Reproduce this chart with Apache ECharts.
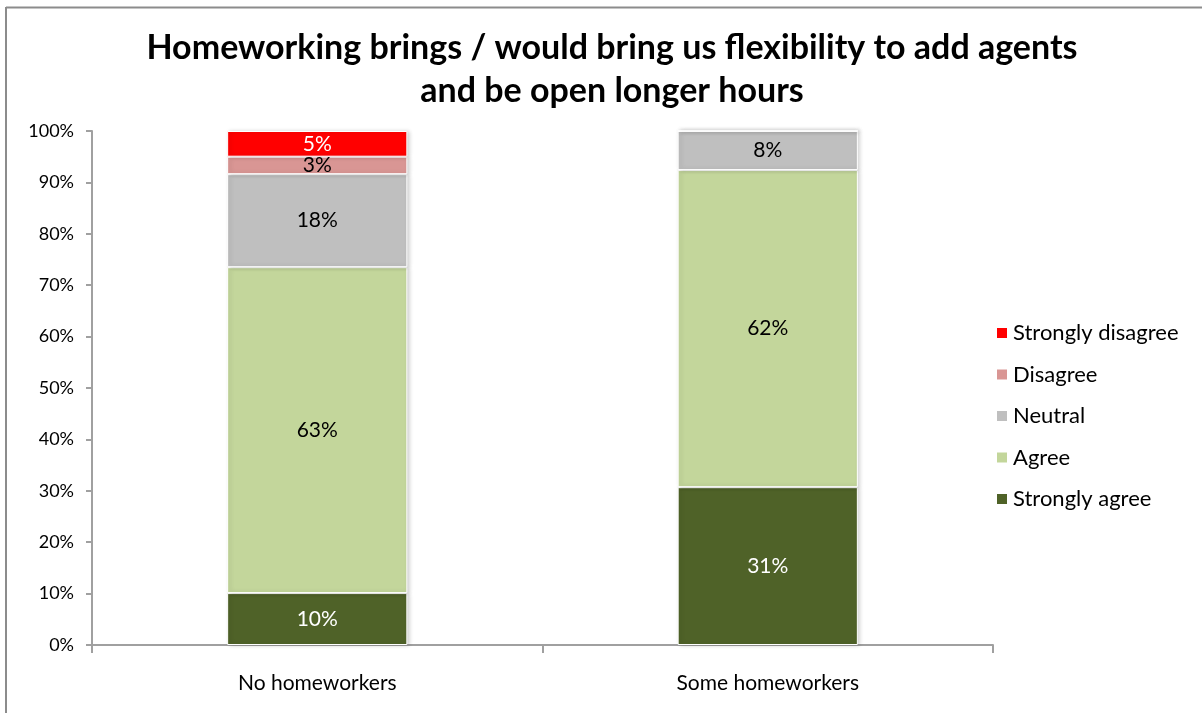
<!DOCTYPE html>
<html>
<head>
<meta charset="utf-8">
<script src="https://cdn.jsdelivr.net/npm/echarts@6/dist/echarts.min.js"></script>
<style>
  html, body { margin: 0; padding: 0; background: #fff; }
  #chart { width: 1202px; height: 713px; }
</style>
</head>
<body>
<div id="chart"></div>
<script>
// Survey responses (% of respondents) by homeworking status
const categories = ['No homeworkers', 'Some homeworkers'];
const stronglyAgree = [10.1, 30.7];
const agree = [63.4, 61.7];
const neutral = [18.1, 7.6];
const disagree = [3.4, 0];
const stronglyDisagree = [5.0, 0];
const yTicks = [0, 10, 20, 30, 40, 50, 60, 70, 80, 90, 100];

const FONT = 'Lato, "Noto Sans", sans-serif';

function seg(name, data, color, labelColor) {
  return {
    name: name,
    type: 'bar',
    stack: 'total',
    barWidth: '40%',
    data: data,
    itemStyle: {
      color: color,
      borderColor: '#ffffff',
      borderWidth: 1,
      shadowColor: 'rgba(0,0,0,0.18)',
      shadowBlur: 4,
      shadowOffsetX: 2
    },
    label: {
      show: true,
      position: 'inside',
      color: labelColor,
      fontFamily: FONT,
      fontSize: 21,
      formatter: p => (p.value > 0 ? Math.round(p.value) + '%' : '')
    },
    emphasis: { disabled: true }
  };
}

const chart = echarts.init(document.getElementById('chart'), null, { renderer: 'canvas' });
chart.setOption({
  animation: false,
  backgroundColor: '#ffffff',
  title: {
    text: 'Homeworking brings / would bring us flexibility to add agents\nand be open longer hours',
    left: 607,
    textAlign: 'center',
    top: 22,
    textStyle: {
      fontFamily: FONT,
      fontWeight: 'bold',
      fontSize: 34,
      lineHeight: 43,
      color: '#000'
    }
  },
  legend: {
    orient: 'vertical',
    left: 990,
    top: 317,
    itemWidth: 12,
    itemHeight: 12,
    itemGap: 19.5,
    icon: 'rect',
    data: ['Strongly disagree', 'Disagree', 'Neutral', 'Agree', 'Strongly agree'],
    textStyle: { fontFamily: FONT, fontSize: 22, color: '#000', padding: [0, 0, 0, 0] }
  },
  grid: { left: 92, right: 209, top: 131, bottom: 68, containLabel: false },
  xAxis: {
    type: 'category',
    data: categories,
    axisLine: { lineStyle: { color: '#a0a0a0', width: 2 } },
    axisTick: { show: true, length: 8, lineStyle: { color: '#a0a0a0', width: 2 } },
    axisLabel: { fontFamily: FONT, fontSize: 21, color: '#000', margin: 28 }
  },
  yAxis: {
    type: 'value',
    min: yTicks[0],
    max: yTicks[yTicks.length - 1],
    interval: 10,
    splitLine: { show: false },
    axisLine: { show: true, lineStyle: { color: '#a0a0a0', width: 2 } },
    axisTick: { show: true, length: 6, lineStyle: { color: '#a0a0a0', width: 2 } },
    axisLabel: { fontFamily: FONT, fontSize: 18, color: '#000', margin: 18, formatter: '{value}%' }
  },
  series: [
    seg('Strongly agree', stronglyAgree, '#4F6228', '#ffffff'),
    seg('Agree', agree, '#C3D69B', '#000000'),
    seg('Neutral', neutral, '#BFBFBF', '#000000'),
    seg('Disagree', disagree, '#D99694', '#000000'),
    seg('Strongly disagree', stronglyDisagree, '#FF0000', '#ffffff')
  ],
  graphic: [
    { type: 'line', shape: { x1: 6, y1: 7.5, x2: 1202, y2: 7.5 }, style: { stroke: '#8c8c8c', lineWidth: 2 } },
    { type: 'line', shape: { x1: 6, y1: 7, x2: 6, y2: 713 }, style: { stroke: '#8c8c8c', lineWidth: 2 } }
  ]
});
</script>
</body>
</html>
